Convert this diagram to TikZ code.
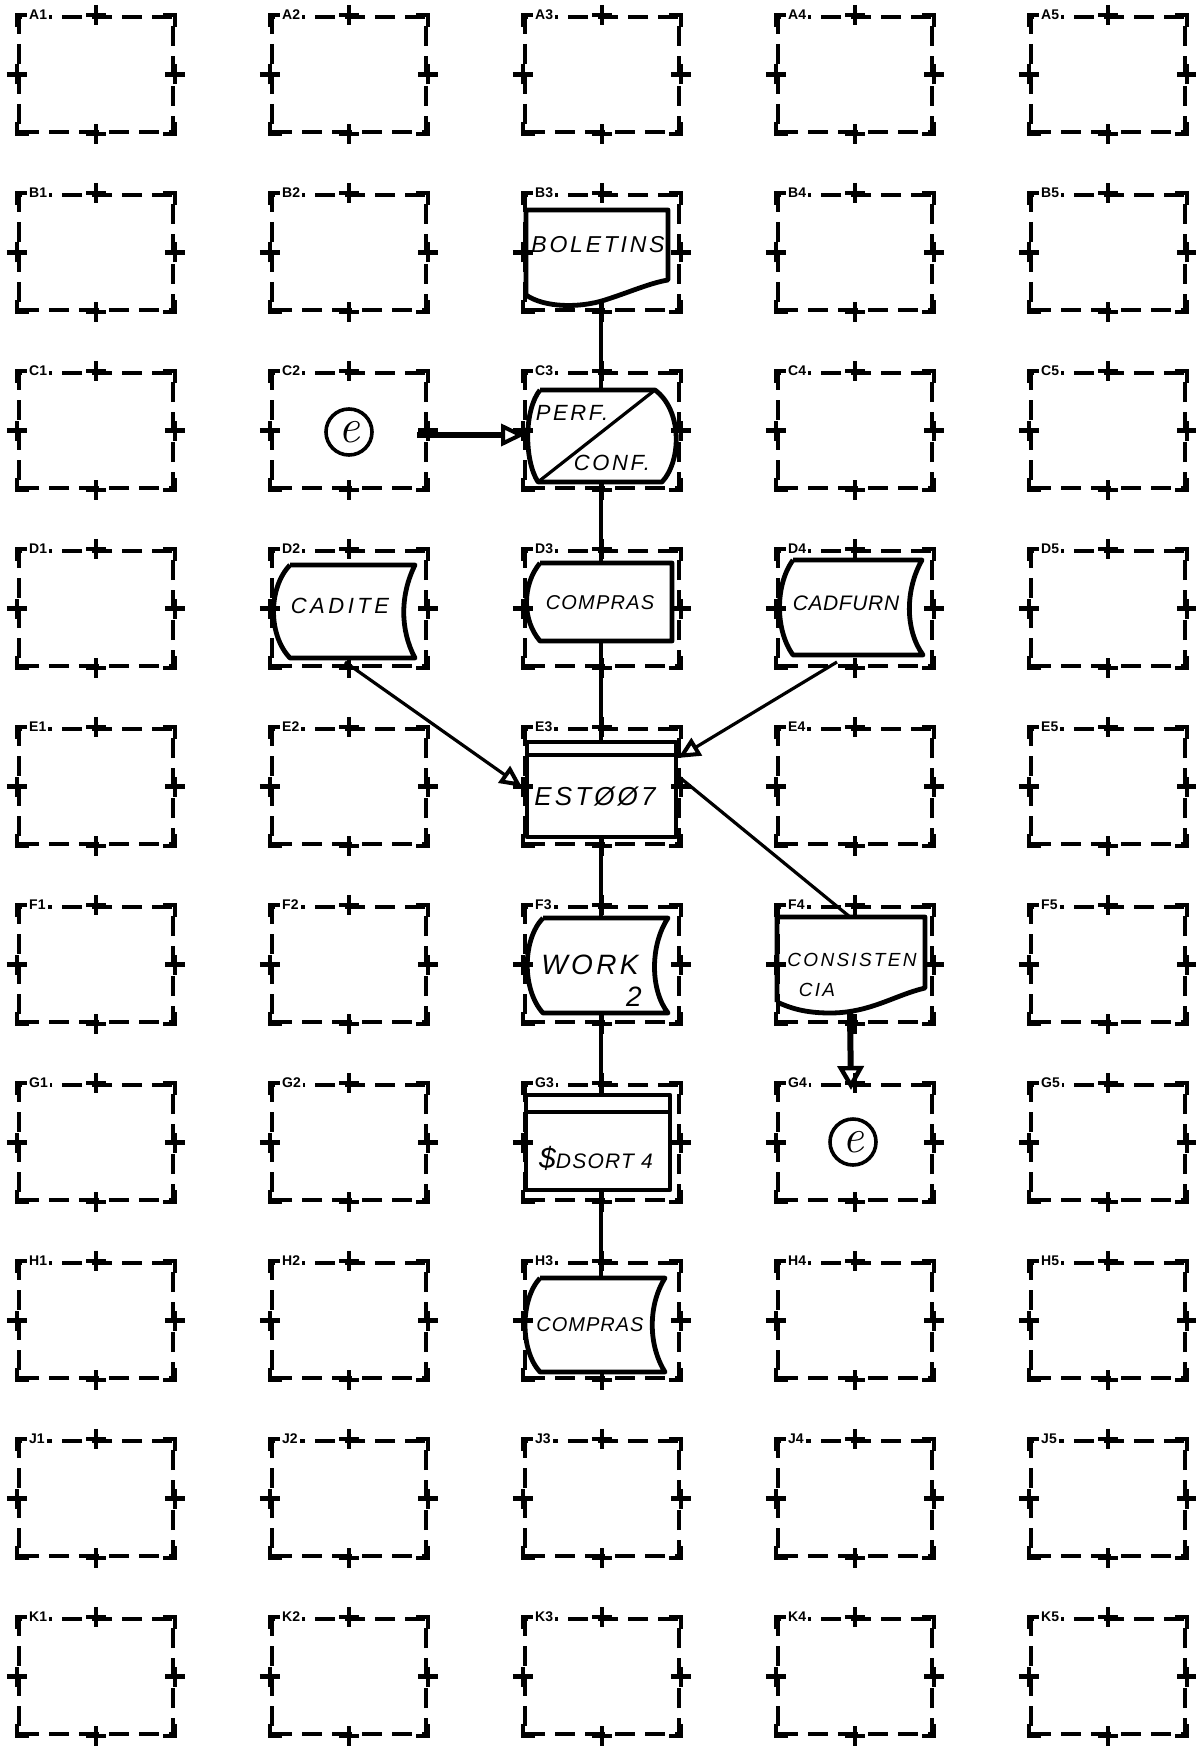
\documentclass[tikz,border=0pt]{standalone}
\usepackage{fontspec}
\newfontfamily\hand{Liberation Sans}[LetterSpace=12]
\newfontfamily\labfont{Liberation Sans}
\usetikzlibrary{arrows.meta}
\begin{document}
\begin{tikzpicture}[x=0.5pt,y=-0.5pt]
\tikzset{
  cellbox/.style={draw, line width=2.2pt, dash pattern=on 10pt off 5pt, minimum width=77pt, minimum height=57.5pt, inner sep=0pt},
  plusmark/.style={line width=2.2pt},
  lab/.style={font=\labfont\bfseries\fontsize{7}{7}\selectfont, fill=white, inner sep=1pt, anchor=west},
  outl/.style={line width=2.4pt, line join=round},
  conn/.style={line width=1.6pt},
  bigconn/.style={line width=3pt},
  handtxt/.style={font=\hand\itshape\fontsize{11}{12}\selectfont, inner sep=0pt},
  ecirc/.style={draw, circle, line width=1.8pt, minimum size=23pt, inner sep=0pt, font=\fontsize{24}{24}\selectfont\itshape},
  openhead/.style={-{Triangle[open, length=12pt, width=11pt, line width=2pt]}},
}
\fill[white] (0,0) rectangle (1195,1749);
\useasboundingbox (0,0) rectangle (1195,1749);

% grid of cells
\foreach \r [count=\i from 0] in {A,B,C,D,E,F,G,H,J,K}{
  \foreach \c in {1,...,5}{
    \node[cellbox] (\r\c) at ({96+253*(\c-1)}, {74.5+178*\i}) {};
    \draw[plusmark] ([yshift=-6pt]\r\c.north west) -- (\r\c.north west) -- ([xshift=6pt]\r\c.north west);
    \draw[plusmark] ([yshift=-6pt]\r\c.north east) -- (\r\c.north east) -- ([xshift=-6pt]\r\c.north east);
    \draw[plusmark] ([yshift=6pt]\r\c.south west) -- (\r\c.south west) -- ([xshift=6pt]\r\c.south west);
    \draw[plusmark] ([yshift=6pt]\r\c.south east) -- (\r\c.south east) -- ([xshift=-6pt]\r\c.south east);
    \draw[plusmark] ([yshift=5pt]\r\c.north) -- ([yshift=-5pt]\r\c.north);
    \draw[plusmark] ([xshift=-5pt]\r\c.north) -- ([xshift=5pt]\r\c.north);
    \draw[plusmark] ([yshift=5pt]\r\c.south) -- ([yshift=-5pt]\r\c.south);
    \draw[plusmark] ([xshift=-5pt]\r\c.south) -- ([xshift=5pt]\r\c.south);
    \draw[plusmark] ([xshift=-5pt]\r\c.west) -- ([xshift=5pt]\r\c.west);
    \draw[plusmark] ([yshift=-5pt]\r\c.west) -- ([yshift=5pt]\r\c.west);
    \draw[plusmark] ([xshift=-5pt]\r\c.east) -- ([xshift=5pt]\r\c.east);
    \draw[plusmark] ([yshift=-5pt]\r\c.east) -- ([yshift=5pt]\r\c.east);
    \node[lab] (lab\r\c) at ([xshift=5pt]\r\c.north west) {\r\c};
  }
}

% B3 document BOLETINS
\draw[outl] (526,295) -- (526,210) -- (668,210) -- (668,280)
  .. controls (650,283) and (630,292) .. (605,300)
  .. controls (580,308) and (545,308) .. (526,295);
\node[handtxt, font=\hand\itshape\fontsize{11.5}{12}\selectfont] (tb3) at (598,245) {BOLETINS};
\coordinate (b3out) at (601,301);

% C3 keying PERF./CONF.
\draw[outl] (540,390) -- (655,390)
  .. controls (682,410) and (682,460) .. (662,482)
  -- (538,482)
  .. controls (524,460) and (524,410) .. (540,390);
\draw[line width=1.6pt] (538,482) -- (655,390);
\node[handtxt] (tc3a) at (572,413) {PERF.};
\node[handtxt] (tc3b) at (612,463) {CONF.};
\coordinate (c3in) at (601,390);
\coordinate (c3out) at (601,482);
\coordinate (c3left) at (525,435);

% C2 connector
\node[ecirc] (e1) at (349,432) {e};
\coordinate (c2out) at (417,435);

% D2 CADITE
\draw[outl] (290,565) -- (415,565)
  .. controls (400,595) and (400,630) .. (415,658)
  -- (290,658)
  .. controls (268,635) and (268,588) .. (290,565);
\node[handtxt, font=\hand\itshape\addfontfeature{LetterSpace=16}\fontsize{11}{12}\selectfont] (td2) at (340,606) {CADITE};
\coordinate (d2out) at (345,662);

% D3 COMPRAS
\draw[outl] (540,563) -- (672,563) -- (672,641) -- (540,641)
  .. controls (522,620) and (522,585) .. (540,563);
\node[handtxt, font=\hand\itshape\addfontfeature{LetterSpace=6}\fontsize{10}{12}\selectfont] (td3) at (600,603) {COMPRAS};
\coordinate (d3in) at (601,563);
\coordinate (d3out) at (601,641);

% D4 CADFURN
\draw[outl] (793,560) -- (922,560)
  .. controls (905,590) and (905,630) .. (923,655)
  -- (793,655)
  .. controls (775,630) and (775,585) .. (793,560);
\node[handtxt, font=\hand\itshape\addfontfeature{LetterSpace=3}\fontsize{10.5}{12}\selectfont] (td4) at (846,603) {CADFURN};
\coordinate (d4out) at (837,662);

% E3 EST007
\draw[outl] (527,742) rectangle (676,837);
\draw[outl] (527,755) -- (676,755);
\node[handtxt, font=\hand\itshape\fontsize{13}{14}\selectfont] (te3) at (595,797) {ESTØØ7};
\coordinate (e3in) at (601,742);
\coordinate (e3out) at (601,837);
\coordinate (e3left) at (522,787);
\coordinate (e3tr) at (678,758);
\coordinate (e3right) at (678,776);

% F3 WORK 2
\draw[outl] (543,918) -- (668,918)
  .. controls (650,945) and (650,990) .. (668,1013)
  -- (543,1013)
  .. controls (522,990) and (522,940) .. (543,918);
\node[handtxt, font=\hand\itshape\fontsize{14}{15}\selectfont] (tf3a) at (590,965) {WORK};
\node[handtxt, font=\hand\itshape\fontsize{14}{15}\selectfont] (tf3b) at (634,997) {2};
\coordinate (f3in) at (601,918);
\coordinate (f3out) at (601,1013);

% F4 CONSISTENCIA document
\draw[outl] (777,1002) -- (777,917) -- (925,917) -- (925,988)
  .. controls (895,995) and (870,1013) .. (830,1013)
  .. controls (805,1013) and (790,1008) .. (777,1002);
\node[handtxt, font=\hand\itshape\fontsize{9.5}{10}\selectfont] (tf4a) at (852,960) {CONSISTEN};
\node[handtxt, font=\hand\itshape\fontsize{9.5}{10}\selectfont] (tf4b) at (817,990) {CIA};
\coordinate (f4in) at (850,917);
\coordinate (f4out) at (850,1013);

% G4 connector
\node[ecirc] (e2) at (853,1142) {e};
\coordinate (g4in) at (851,1090);

% G3 $DSORT 4
\draw[outl] (526,1095) rectangle (670,1190);
\draw[outl] (526,1112) -- (670,1112);
\node[handtxt, font=\hand\itshape\addfontfeature{LetterSpace=6}\fontsize{10.5}{13}\selectfont] (tg3) at (596,1158) {{\fontsize{15}{15}\selectfont\$}DSORT 4};
\coordinate (g3in) at (601,1095);
\coordinate (g3out) at (601,1190);

% H3 COMPRAS
\draw[outl] (540,1278) -- (665,1278)
  .. controls (648,1305) and (648,1345) .. (665,1372)
  -- (540,1372)
  .. controls (520,1350) and (520,1300) .. (540,1278);
\node[handtxt, font=\hand\itshape\addfontfeature{LetterSpace=5}\fontsize{10}{12}\selectfont] (th3) at (590,1325) {COMPRAS};
\coordinate (h3in) at (601,1278);

% connectors
\draw[conn] (b3out) -- (c3in);
\draw[conn] (c3out) -- (d3in);
\draw[conn] (d3out) -- (e3in);
\draw[conn] (e3out) -- (f3in);
\draw[conn] (f3out) -- (g3in);
\draw[conn] (g3out) -- (h3in);
\draw[bigconn, openhead] (c2out) -- (c3left);
\draw[conn, -{Triangle[open, length=11pt, width=10pt, line width=2pt]}] (d2out) -- (e3left);
\draw[conn, -{Triangle[open, length=11pt, width=10pt, line width=2pt]}] (d4out) -- (e3tr);
\draw[conn] (e3right) -- (f4in);
\draw[bigconn, -{Triangle[open, length=12pt, width=13pt, line width=2.2pt]}] (f4out) -- (g4in);
\end{tikzpicture}
\end{document}
